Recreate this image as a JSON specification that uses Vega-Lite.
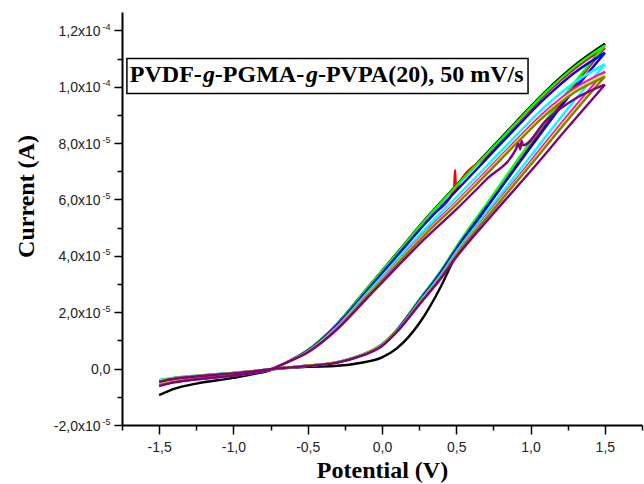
{
  "$schema": "https://vega.github.io/schema/vega-lite/v6.json",
  "width": 520,
  "height": 413,
  "autosize": {"type": "none"},
  "padding": {"left": 122, "top": 12, "right": 2, "bottom": 59},
  "background": "white",
  "config": {"view": {"stroke": null}, "axis": {"grid": false}},
  "datasets": {
    "cv": [
      {"s":"s1","b":"B","v":-1.5,"i":-0.94e-5},{"s":"s1","b":"B","v":-1.4,"i":-0.72e-5},{"s":"s1","b":"B","v":-1.25,"i":-0.53e-5},{"s":"s1","b":"B","v":-1.0,"i":-0.33e-5},{"s":"s1","b":"B","v":-0.85,"i":-0.18e-5},{"s":"s1","b":"B","v":-0.75,"i":-0.05e-5},{"s":"s1","b":"B","v":-0.65,"i":0.20e-5},{"s":"s1","b":"B","v":-0.5,"i":0.65e-5},{"s":"s1","b":"B","v":-0.3,"i":1.60e-5},{"s":"s1","b":"B","v":-0.1,"i":2.85e-5},{"s":"s1","b":"B","v":0.1,"i":4.10e-5},{"s":"s1","b":"B","v":0.3,"i":5.35e-5},{"s":"s1","b":"B","v":0.5,"i":6.50e-5},{"s":"s1","b":"B","v":0.7,"i":7.62e-5},{"s":"s1","b":"B","v":0.9,"i":8.74e-5},{"s":"s1","b":"B","v":1.1,"i":9.83e-5},{"s":"s1","b":"B","v":1.3,"i":10.77e-5},{"s":"s1","b":"B","v":1.5,"i":11.52e-5},
      {"s":"s1","b":"A","v":-1.5,"i":-0.45e-5},{"s":"s1","b":"A","v":-1.4,"i":-0.36e-5},{"s":"s1","b":"A","v":-1.25,"i":-0.27e-5},{"s":"s1","b":"A","v":-1.0,"i":-0.16e-5},{"s":"s1","b":"A","v":-0.85,"i":-0.09e-5},{"s":"s1","b":"A","v":-0.75,"i":-0.03e-5},{"s":"s1","b":"A","v":-0.5,"i":0.06e-5},{"s":"s1","b":"A","v":-0.3,"i":0.10e-5},{"s":"s1","b":"A","v":-0.15,"i":0.20e-5},{"s":"s1","b":"A","v":0.0,"i":0.40e-5},{"s":"s1","b":"A","v":0.1,"i":0.72e-5},{"s":"s1","b":"A","v":0.25,"i":1.60e-5},{"s":"s1","b":"A","v":0.4,"i":2.95e-5},{"s":"s1","b":"A","v":0.5,"i":4.05e-5},{"s":"s1","b":"A","v":0.6,"i":4.92e-5},{"s":"s1","b":"A","v":0.75,"i":6.05e-5},{"s":"s1","b":"A","v":1.0,"i":7.90e-5},{"s":"s1","b":"A","v":1.25,"i":9.70e-5},{"s":"s1","b":"A","v":1.5,"i":11.52e-5},

      {"s":"s2","b":"B","v":-1.5,"i":-0.58e-5},{"s":"s2","b":"B","v":-1.4,"i":-0.47e-5},{"s":"s2","b":"B","v":-1.25,"i":-0.37e-5},{"s":"s2","b":"B","v":-1.0,"i":-0.24e-5},{"s":"s2","b":"B","v":-0.85,"i":-0.13e-5},{"s":"s2","b":"B","v":-0.75,"i":-0.03e-5},{"s":"s2","b":"B","v":-0.65,"i":0.20e-5},{"s":"s2","b":"B","v":-0.5,"i":0.64e-5},{"s":"s2","b":"B","v":-0.3,"i":1.58e-5},{"s":"s2","b":"B","v":-0.1,"i":2.82e-5},{"s":"s2","b":"B","v":0.1,"i":4.05e-5},{"s":"s2","b":"B","v":0.3,"i":5.28e-5},{"s":"s2","b":"B","v":0.485,"i":6.33e-5},{"s":"s2","b":"B","v":0.492,"i":7.05e-5},{"s":"s2","b":"B","v":0.498,"i":6.30e-5},{"s":"s2","b":"B","v":0.51,"i":6.47e-5},{"s":"s2","b":"B","v":0.7,"i":7.53e-5},{"s":"s2","b":"B","v":0.9,"i":8.64e-5},{"s":"s2","b":"B","v":1.1,"i":9.73e-5},{"s":"s2","b":"B","v":1.3,"i":10.65e-5},{"s":"s2","b":"B","v":1.5,"i":11.38e-5},
      {"s":"s2","b":"A","v":-1.5,"i":-0.44e-5},{"s":"s2","b":"A","v":-1.4,"i":-0.35e-5},{"s":"s2","b":"A","v":-1.25,"i":-0.27e-5},{"s":"s2","b":"A","v":-1.0,"i":-0.16e-5},{"s":"s2","b":"A","v":-0.85,"i":-0.08e-5},{"s":"s2","b":"A","v":-0.75,"i":-0.02e-5},{"s":"s2","b":"A","v":-0.5,"i":0.10e-5},{"s":"s2","b":"A","v":-0.3,"i":0.23e-5},{"s":"s2","b":"A","v":-0.15,"i":0.46e-5},{"s":"s2","b":"A","v":0.0,"i":0.86e-5},{"s":"s2","b":"A","v":0.1,"i":1.37e-5},{"s":"s2","b":"A","v":0.25,"i":2.43e-5},{"s":"s2","b":"A","v":0.4,"i":3.48e-5},{"s":"s2","b":"A","v":0.5,"i":4.30e-5},{"s":"s2","b":"A","v":0.75,"i":6.13e-5},{"s":"s2","b":"A","v":1.0,"i":7.98e-5},{"s":"s2","b":"A","v":1.25,"i":9.76e-5},{"s":"s2","b":"A","v":1.5,"i":11.38e-5},

      {"s":"s3","b":"B","v":-1.5,"i":-0.55e-5},{"s":"s3","b":"B","v":-1.4,"i":-0.45e-5},{"s":"s3","b":"B","v":-1.25,"i":-0.36e-5},{"s":"s3","b":"B","v":-1.0,"i":-0.24e-5},{"s":"s3","b":"B","v":-0.85,"i":-0.13e-5},{"s":"s3","b":"B","v":-0.75,"i":-0.03e-5},{"s":"s3","b":"B","v":-0.65,"i":0.20e-5},{"s":"s3","b":"B","v":-0.5,"i":0.65e-5},{"s":"s3","b":"B","v":-0.3,"i":1.59e-5},{"s":"s3","b":"B","v":-0.1,"i":2.84e-5},{"s":"s3","b":"B","v":0.1,"i":4.08e-5},{"s":"s3","b":"B","v":0.3,"i":5.32e-5},{"s":"s3","b":"B","v":0.5,"i":6.47e-5},{"s":"s3","b":"B","v":0.7,"i":7.58e-5},{"s":"s3","b":"B","v":0.9,"i":8.70e-5},{"s":"s3","b":"B","v":1.1,"i":9.79e-5},{"s":"s3","b":"B","v":1.3,"i":10.72e-5},{"s":"s3","b":"B","v":1.5,"i":11.46e-5},
      {"s":"s3","b":"A","v":-1.5,"i":-0.40e-5},{"s":"s3","b":"A","v":-1.4,"i":-0.32e-5},{"s":"s3","b":"A","v":-1.25,"i":-0.25e-5},{"s":"s3","b":"A","v":-1.0,"i":-0.15e-5},{"s":"s3","b":"A","v":-0.85,"i":-0.08e-5},{"s":"s3","b":"A","v":-0.75,"i":-0.02e-5},{"s":"s3","b":"A","v":-0.5,"i":0.10e-5},{"s":"s3","b":"A","v":-0.3,"i":0.23e-5},{"s":"s3","b":"A","v":-0.15,"i":0.46e-5},{"s":"s3","b":"A","v":0.0,"i":0.87e-5},{"s":"s3","b":"A","v":0.1,"i":1.38e-5},{"s":"s3","b":"A","v":0.25,"i":2.44e-5},{"s":"s3","b":"A","v":0.4,"i":3.50e-5},{"s":"s3","b":"A","v":0.5,"i":4.32e-5},{"s":"s3","b":"A","v":0.75,"i":6.18e-5},{"s":"s3","b":"A","v":1.0,"i":8.05e-5},{"s":"s3","b":"A","v":1.25,"i":9.84e-5},{"s":"s3","b":"A","v":1.5,"i":11.46e-5},

      {"s":"s4","b":"B","v":-1.5,"i":-0.57e-5},{"s":"s4","b":"B","v":-1.4,"i":-0.46e-5},{"s":"s4","b":"B","v":-1.25,"i":-0.37e-5},{"s":"s4","b":"B","v":-1.0,"i":-0.24e-5},{"s":"s4","b":"B","v":-0.85,"i":-0.13e-5},{"s":"s4","b":"B","v":-0.75,"i":-0.03e-5},{"s":"s4","b":"B","v":-0.65,"i":0.20e-5},{"s":"s4","b":"B","v":-0.5,"i":0.63e-5},{"s":"s4","b":"B","v":-0.3,"i":1.56e-5},{"s":"s4","b":"B","v":-0.1,"i":2.77e-5},{"s":"s4","b":"B","v":0.1,"i":3.99e-5},{"s":"s4","b":"B","v":0.3,"i":5.20e-5},{"s":"s4","b":"B","v":0.5,"i":6.31e-5},{"s":"s4","b":"B","v":0.7,"i":7.42e-5},{"s":"s4","b":"B","v":0.9,"i":8.53e-5},{"s":"s4","b":"B","v":1.1,"i":9.60e-5},{"s":"s4","b":"B","v":1.3,"i":10.51e-5},{"s":"s4","b":"B","v":1.5,"i":11.20e-5},
      {"s":"s4","b":"A","v":-1.5,"i":-0.43e-5},{"s":"s4","b":"A","v":-1.4,"i":-0.34e-5},{"s":"s4","b":"A","v":-1.25,"i":-0.26e-5},{"s":"s4","b":"A","v":-1.0,"i":-0.15e-5},{"s":"s4","b":"A","v":-0.85,"i":-0.08e-5},{"s":"s4","b":"A","v":-0.75,"i":-0.02e-5},{"s":"s4","b":"A","v":-0.5,"i":0.10e-5},{"s":"s4","b":"A","v":-0.3,"i":0.23e-5},{"s":"s4","b":"A","v":-0.15,"i":0.45e-5},{"s":"s4","b":"A","v":0.0,"i":0.85e-5},{"s":"s4","b":"A","v":0.1,"i":1.36e-5},{"s":"s4","b":"A","v":0.25,"i":2.40e-5},{"s":"s4","b":"A","v":0.4,"i":3.45e-5},{"s":"s4","b":"A","v":0.5,"i":4.25e-5},{"s":"s4","b":"A","v":0.75,"i":6.05e-5},{"s":"s4","b":"A","v":1.0,"i":7.85e-5},{"s":"s4","b":"A","v":1.25,"i":9.60e-5},{"s":"s4","b":"A","v":1.5,"i":11.20e-5},

      {"s":"s5","b":"B","v":-1.5,"i":-0.52e-5},{"s":"s5","b":"B","v":-1.4,"i":-0.43e-5},{"s":"s5","b":"B","v":-1.25,"i":-0.35e-5},{"s":"s5","b":"B","v":-1.0,"i":-0.23e-5},{"s":"s5","b":"B","v":-0.85,"i":-0.12e-5},{"s":"s5","b":"B","v":-0.75,"i":-0.03e-5},{"s":"s5","b":"B","v":-0.65,"i":0.20e-5},{"s":"s5","b":"B","v":-0.5,"i":0.61e-5},{"s":"s5","b":"B","v":-0.3,"i":1.50e-5},{"s":"s5","b":"B","v":-0.1,"i":2.68e-5},{"s":"s5","b":"B","v":0.1,"i":3.85e-5},{"s":"s5","b":"B","v":0.3,"i":5.01e-5},{"s":"s5","b":"B","v":0.5,"i":6.08e-5},{"s":"s5","b":"B","v":0.7,"i":7.16e-5},{"s":"s5","b":"B","v":0.9,"i":8.26e-5},{"s":"s5","b":"B","v":1.1,"i":9.31e-5},{"s":"s5","b":"B","v":1.3,"i":10.17e-5},{"s":"s5","b":"B","v":1.5,"i":10.80e-5},
      {"s":"s5","b":"A","v":-1.5,"i":-0.41e-5},{"s":"s5","b":"A","v":-1.4,"i":-0.33e-5},{"s":"s5","b":"A","v":-1.25,"i":-0.25e-5},{"s":"s5","b":"A","v":-1.0,"i":-0.15e-5},{"s":"s5","b":"A","v":-0.85,"i":-0.08e-5},{"s":"s5","b":"A","v":-0.75,"i":-0.02e-5},{"s":"s5","b":"A","v":-0.5,"i":0.10e-5},{"s":"s5","b":"A","v":-0.3,"i":0.23e-5},{"s":"s5","b":"A","v":-0.15,"i":0.45e-5},{"s":"s5","b":"A","v":0.0,"i":0.84e-5},{"s":"s5","b":"A","v":0.1,"i":1.34e-5},{"s":"s5","b":"A","v":0.25,"i":2.35e-5},{"s":"s5","b":"A","v":0.4,"i":3.36e-5},{"s":"s5","b":"A","v":0.5,"i":4.14e-5},{"s":"s5","b":"A","v":0.75,"i":5.85e-5},{"s":"s5","b":"A","v":1.0,"i":7.54e-5},{"s":"s5","b":"A","v":1.25,"i":9.22e-5},{"s":"s5","b":"A","v":1.5,"i":10.80e-5},

      {"s":"s6","b":"B","v":-1.5,"i":-0.60e-5},{"s":"s6","b":"B","v":-1.4,"i":-0.48e-5},{"s":"s6","b":"B","v":-1.25,"i":-0.38e-5},{"s":"s6","b":"B","v":-1.0,"i":-0.25e-5},{"s":"s6","b":"B","v":-0.85,"i":-0.13e-5},{"s":"s6","b":"B","v":-0.75,"i":-0.03e-5},{"s":"s6","b":"B","v":-0.65,"i":0.20e-5},{"s":"s6","b":"B","v":-0.5,"i":0.60e-5},{"s":"s6","b":"B","v":-0.3,"i":1.46e-5},{"s":"s6","b":"B","v":-0.1,"i":2.61e-5},{"s":"s6","b":"B","v":0.1,"i":3.76e-5},{"s":"s6","b":"B","v":0.3,"i":4.89e-5},{"s":"s6","b":"B","v":0.5,"i":5.92e-5},{"s":"s6","b":"B","v":0.7,"i":6.99e-5},{"s":"s6","b":"B","v":0.9,"i":8.08e-5},{"s":"s6","b":"B","v":1.1,"i":9.12e-5},{"s":"s6","b":"B","v":1.3,"i":9.95e-5},{"s":"s6","b":"B","v":1.5,"i":10.53e-5},
      {"s":"s6","b":"A","v":-1.5,"i":-0.45e-5},{"s":"s6","b":"A","v":-1.4,"i":-0.35e-5},{"s":"s6","b":"A","v":-1.25,"i":-0.27e-5},{"s":"s6","b":"A","v":-1.0,"i":-0.16e-5},{"s":"s6","b":"A","v":-0.85,"i":-0.08e-5},{"s":"s6","b":"A","v":-0.75,"i":-0.02e-5},{"s":"s6","b":"A","v":-0.5,"i":0.10e-5},{"s":"s6","b":"A","v":-0.3,"i":0.22e-5},{"s":"s6","b":"A","v":-0.15,"i":0.44e-5},{"s":"s6","b":"A","v":0.0,"i":0.83e-5},{"s":"s6","b":"A","v":0.1,"i":1.33e-5},{"s":"s6","b":"A","v":0.25,"i":2.32e-5},{"s":"s6","b":"A","v":0.4,"i":3.30e-5},{"s":"s6","b":"A","v":0.5,"i":4.07e-5},{"s":"s6","b":"A","v":0.75,"i":5.73e-5},{"s":"s6","b":"A","v":1.0,"i":7.35e-5},{"s":"s6","b":"A","v":1.25,"i":8.98e-5},{"s":"s6","b":"A","v":1.5,"i":10.53e-5},

      {"s":"s7","b":"B","v":-1.5,"i":-0.56e-5},{"s":"s7","b":"B","v":-1.4,"i":-0.45e-5},{"s":"s7","b":"B","v":-1.25,"i":-0.36e-5},{"s":"s7","b":"B","v":-1.0,"i":-0.24e-5},{"s":"s7","b":"B","v":-0.85,"i":-0.13e-5},{"s":"s7","b":"B","v":-0.75,"i":-0.03e-5},{"s":"s7","b":"B","v":-0.65,"i":0.20e-5},{"s":"s7","b":"B","v":-0.5,"i":0.59e-5},{"s":"s7","b":"B","v":-0.3,"i":1.45e-5},{"s":"s7","b":"B","v":-0.1,"i":2.59e-5},{"s":"s7","b":"B","v":0.1,"i":3.73e-5},{"s":"s7","b":"B","v":0.3,"i":4.84e-5},{"s":"s7","b":"B","v":0.5,"i":5.86e-5},{"s":"s7","b":"B","v":0.7,"i":6.93e-5},{"s":"s7","b":"B","v":0.9,"i":8.01e-5},{"s":"s7","b":"B","v":1.1,"i":9.04e-5},{"s":"s7","b":"B","v":1.3,"i":9.87e-5},{"s":"s7","b":"B","v":1.5,"i":10.43e-5},
      {"s":"s7","b":"A","v":-1.5,"i":-0.44e-5},{"s":"s7","b":"A","v":-1.4,"i":-0.35e-5},{"s":"s7","b":"A","v":-1.25,"i":-0.26e-5},{"s":"s7","b":"A","v":-1.0,"i":-0.16e-5},{"s":"s7","b":"A","v":-0.85,"i":-0.08e-5},{"s":"s7","b":"A","v":-0.75,"i":-0.02e-5},{"s":"s7","b":"A","v":-0.5,"i":0.10e-5},{"s":"s7","b":"A","v":-0.3,"i":0.22e-5},{"s":"s7","b":"A","v":-0.15,"i":0.44e-5},{"s":"s7","b":"A","v":0.0,"i":0.83e-5},{"s":"s7","b":"A","v":0.1,"i":1.32e-5},{"s":"s7","b":"A","v":0.25,"i":2.31e-5},{"s":"s7","b":"A","v":0.4,"i":3.28e-5},{"s":"s7","b":"A","v":0.5,"i":4.05e-5},{"s":"s7","b":"A","v":0.75,"i":5.68e-5},{"s":"s7","b":"A","v":1.0,"i":7.27e-5},{"s":"s7","b":"A","v":1.25,"i":8.89e-5},{"s":"s7","b":"A","v":1.5,"i":10.43e-5},

      {"s":"s8","b":"B","v":-1.5,"i":-0.58e-5},{"s":"s8","b":"B","v":-1.4,"i":-0.47e-5},{"s":"s8","b":"B","v":-1.25,"i":-0.37e-5},{"s":"s8","b":"B","v":-1.0,"i":-0.24e-5},{"s":"s8","b":"B","v":-0.85,"i":-0.13e-5},{"s":"s8","b":"B","v":-0.75,"i":-0.03e-5},{"s":"s8","b":"B","v":-0.65,"i":0.20e-5},{"s":"s8","b":"B","v":-0.5,"i":0.59e-5},{"s":"s8","b":"B","v":-0.3,"i":1.44e-5},{"s":"s8","b":"B","v":-0.1,"i":2.57e-5},{"s":"s8","b":"B","v":0.1,"i":3.70e-5},{"s":"s8","b":"B","v":0.3,"i":4.81e-5},{"s":"s8","b":"B","v":0.5,"i":5.82e-5},{"s":"s8","b":"B","v":0.7,"i":6.88e-5},{"s":"s8","b":"B","v":0.9,"i":7.96e-5},{"s":"s8","b":"B","v":1.1,"i":8.99e-5},{"s":"s8","b":"B","v":1.3,"i":9.81e-5},{"s":"s8","b":"B","v":1.5,"i":10.36e-5},
      {"s":"s8","b":"A","v":-1.5,"i":-0.45e-5},{"s":"s8","b":"A","v":-1.4,"i":-0.35e-5},{"s":"s8","b":"A","v":-1.25,"i":-0.27e-5},{"s":"s8","b":"A","v":-1.0,"i":-0.16e-5},{"s":"s8","b":"A","v":-0.85,"i":-0.08e-5},{"s":"s8","b":"A","v":-0.75,"i":-0.02e-5},{"s":"s8","b":"A","v":-0.5,"i":0.10e-5},{"s":"s8","b":"A","v":-0.3,"i":0.22e-5},{"s":"s8","b":"A","v":-0.15,"i":0.44e-5},{"s":"s8","b":"A","v":0.0,"i":0.82e-5},{"s":"s8","b":"A","v":0.1,"i":1.32e-5},{"s":"s8","b":"A","v":0.25,"i":2.30e-5},{"s":"s8","b":"A","v":0.4,"i":3.27e-5},{"s":"s8","b":"A","v":0.5,"i":4.03e-5},{"s":"s8","b":"A","v":0.75,"i":5.64e-5},{"s":"s8","b":"A","v":1.0,"i":7.22e-5},{"s":"s8","b":"A","v":1.25,"i":8.82e-5},{"s":"s8","b":"A","v":1.5,"i":10.36e-5},

      {"s":"s9","b":"B","v":-1.5,"i":-0.62e-5},{"s":"s9","b":"B","v":-1.4,"i":-0.49e-5},{"s":"s9","b":"B","v":-1.25,"i":-0.38e-5},{"s":"s9","b":"B","v":-1.0,"i":-0.25e-5},{"s":"s9","b":"B","v":-0.85,"i":-0.14e-5},{"s":"s9","b":"B","v":-0.75,"i":-0.03e-5},{"s":"s9","b":"B","v":-0.65,"i":0.20e-5},{"s":"s9","b":"B","v":-0.5,"i":0.57e-5},{"s":"s9","b":"B","v":-0.3,"i":1.40e-5},{"s":"s9","b":"B","v":-0.1,"i":2.50e-5},{"s":"s9","b":"B","v":0.1,"i":3.60e-5},{"s":"s9","b":"B","v":0.3,"i":4.67e-5},{"s":"s9","b":"B","v":0.5,"i":5.65e-5},{"s":"s9","b":"B","v":0.7,"i":6.70e-5},{"s":"s9","b":"B","v":0.9,"i":7.77e-5},{"s":"s9","b":"B","v":0.92,"i":7.98e-5},{"s":"s9","b":"B","v":0.93,"i":7.78e-5},{"s":"s9","b":"B","v":0.94,"i":8.08e-5},{"s":"s9","b":"B","v":0.95,"i":7.92e-5},{"s":"s9","b":"B","v":1.1,"i":8.78e-5},{"s":"s9","b":"B","v":1.3,"i":9.57e-5},{"s":"s9","b":"B","v":1.5,"i":10.07e-5},
      {"s":"s9","b":"A","v":-1.5,"i":-0.47e-5},{"s":"s9","b":"A","v":-1.4,"i":-0.37e-5},{"s":"s9","b":"A","v":-1.25,"i":-0.28e-5},{"s":"s9","b":"A","v":-1.0,"i":-0.17e-5},{"s":"s9","b":"A","v":-0.85,"i":-0.09e-5},{"s":"s9","b":"A","v":-0.75,"i":-0.02e-5},{"s":"s9","b":"A","v":-0.5,"i":0.09e-5},{"s":"s9","b":"A","v":-0.3,"i":0.21e-5},{"s":"s9","b":"A","v":-0.15,"i":0.43e-5},{"s":"s9","b":"A","v":0.0,"i":0.80e-5},{"s":"s9","b":"A","v":0.1,"i":1.30e-5},{"s":"s9","b":"A","v":0.25,"i":2.26e-5},{"s":"s9","b":"A","v":0.4,"i":3.22e-5},{"s":"s9","b":"A","v":0.5,"i":3.95e-5},{"s":"s9","b":"A","v":0.75,"i":5.50e-5},{"s":"s9","b":"A","v":1.0,"i":7.00e-5},{"s":"s9","b":"A","v":1.25,"i":8.55e-5},{"s":"s9","b":"A","v":1.5,"i":10.07e-5}
    ]
  },
  "resolve": {"axis": {"x": "independent", "y": "independent"}},
  "layer": [
    {
      "data": {"name": "cv"},
      "mark": {"type": "line", "strokeWidth": 2.4, "interpolate": "monotone"},
      "encoding": {
        "x": {
          "field": "v", "type": "quantitative",
          "scale": {"domain": [-1.75, 1.75], "nice": false, "zero": false},
          "axis": {
            "orient": "bottom", "values": [-1.5, -1, -0.5, 0, 0.5, 1, 1.5],
            "labelExpr": "(datum.value < 0 ? '-' : '') + replace(format(abs(datum.value), '.1f'), '.', ',')",
            "domainColor": "black", "domainWidth": 2, "tickColor": "black", "tickWidth": 1.5, "tickSize": 9,
            "labelFont": "Liberation Sans", "labelFontSize": 14, "labelColor": "#222", "labelPadding": 6,
            "title": "Potential (V)", "titleFont": "Liberation Serif", "titleFontSize": 24, "titleFontWeight": "bold",
            "titleColor": "black", "titleBaseline": "alphabetic", "titleY": 52
          }
        },
        "y": {
          "field": "i", "type": "quantitative",
          "scale": {"domain": [-2e-5, 1.265e-4], "nice": false, "zero": false},
          "axis": {
            "orient": "left", "values": [-2e-5, 0, 2e-5, 4e-5, 6e-5, 8e-5, 1e-4, 1.2e-4],
            "labelExpr": "datum.value == 0 ? '' : (datum.value < 0 ? '-' : '') + replace(format(abs(datum.value) >= 9.9e-5 ? abs(datum.value) * 1e4 : abs(datum.value) * 1e5, '.1f'), '.', ',') + 'x10'",
            "domainColor": "black", "domainWidth": 2, "tickColor": "black", "tickWidth": 1.5, "tickSize": 8,
            "labelFont": "Liberation Sans", "labelFontSize": 14, "labelColor": "#222", "labelPadding": 14, "labelOffset": 1,
            "title": "Current (A)", "titleFont": "Liberation Serif", "titleFontSize": 24, "titleFontWeight": "bold",
            "titleColor": "black", "titleAngle": -90, "titleBaseline": "alphabetic", "titleX": -89, "titleY": 184
          }
        },
        "color": {
          "field": "s", "type": "nominal", "legend": null,
          "scale": {
            "domain": ["s1", "s2", "s3", "s4", "s5", "s6", "s7", "s8", "s9"],
            "range": ["#000000", "#FF0000", "#00FF00", "#0000FF", "#00FFFF", "#FF00FF", "#FFFF00", "#808000", "#800080"]
          }
        },
        "detail": {"field": "b", "type": "nominal"}
      }
    },
    {
      "data": {"values": [{}]},
      "mark": {"type": "rect", "fill": "white", "stroke": "black", "strokeWidth": 1.5},
      "encoding": {
        "x": {
          "datum": -1.717, "type": "quantitative",
          "scale": {"domain": [-1.75, 1.75], "nice": false, "zero": false},
          "axis": {
            "orient": "bottom", "values": [-1.75, -1.25, -0.75, -0.25, 0.25, 0.75, 1.25, 1.75],
            "labels": false, "domain": false, "title": null, "tickColor": "black", "tickWidth": 1.5, "tickSize": 5
          }
        },
        "x2": {"datum": 0.983},
        "y": {
          "datum": 1.10e-4, "type": "quantitative",
          "scale": {"domain": [-2e-5, 1.265e-4], "nice": false, "zero": false},
          "axis": {
            "orient": "left", "values": [-1e-5, 1e-5, 3e-5, 5e-5, 7e-5, 9e-5, 1.1e-4],
            "labels": false, "domain": false, "title": null, "tickColor": "black", "tickWidth": 1.5, "tickSize": 5
          }
        },
        "y2": {"datum": 0.976e-4}
      }
    },
    {
      "data": {"values": [{}]},
      "mark": {"type": "text", "text": "PVDF-", "font": "Liberation Serif", "fontSize": 24, "fontWeight": "bold", "align": "left", "baseline": "alphabetic", "color": "black"},
      "encoding": {
        "x": {"datum": -1.697, "type": "quantitative", "axis": null},
        "y": {
          "datum": 1.016e-4, "type": "quantitative",
          "scale": {"domain": [-2e-5, 1.265e-4], "nice": false, "zero": false},
          "axis": {
            "orient": "left", "values": [-2e-5, 2e-5, 4e-5, 6e-5, 8e-5, 1e-4, 1.2e-4],
            "labelExpr": "abs(datum.value) >= 9.9e-5 ? '-4' : '-5'",
            "ticks": false, "domain": false, "title": null,
            "labelFont": "Liberation Sans", "labelFontSize": 9, "labelColor": "#222", "labelPadding": 12, "labelOffset": -4
          }
        }
      }
    },
    {
      "data": {"values": [{}]},
      "mark": {"type": "text", "text": "g", "font": "Liberation Serif", "fontSize": 24, "fontWeight": "bold", "fontStyle": "italic", "align": "left", "baseline": "alphabetic", "color": "black"},
      "encoding": {
        "x": {"datum": -1.205, "type": "quantitative", "axis": null},
        "y": {
          "datum": 1.016e-4, "type": "quantitative",
          "scale": {"domain": [-2e-5, 1.265e-4], "nice": false, "zero": false},
          "axis": {
            "orient": "left", "values": [0],
            "labelExpr": "'0,0'",
            "ticks": false, "domain": false, "title": null,
            "labelFont": "Liberation Sans", "labelFontSize": 14, "labelColor": "#222", "labelPadding": 12, "labelOffset": 1
          }
        }
      }
    },
    {
      "data": {"values": [{}]},
      "mark": {"type": "text", "text": "-PGMA-", "font": "Liberation Serif", "fontSize": 24, "fontWeight": "bold", "align": "left", "baseline": "alphabetic", "color": "black"},
      "encoding": {
        "x": {"datum": -1.125, "type": "quantitative", "axis": null},
        "y": {"datum": 1.016e-4, "type": "quantitative", "axis": null}
      }
    },
    {
      "data": {"values": [{}]},
      "mark": {"type": "text", "text": "g", "font": "Liberation Serif", "fontSize": 24, "fontWeight": "bold", "fontStyle": "italic", "align": "left", "baseline": "alphabetic", "color": "black"},
      "encoding": {
        "x": {"datum": -0.512, "type": "quantitative", "axis": null},
        "y": {"datum": 1.016e-4, "type": "quantitative", "axis": null}
      }
    },
    {
      "data": {"values": [{}]},
      "mark": {"type": "text", "text": "-PVPA(20), 50 mV/s", "font": "Liberation Serif", "fontSize": 24, "fontWeight": "bold", "align": "left", "baseline": "alphabetic", "color": "black"},
      "encoding": {
        "x": {"datum": -0.431, "type": "quantitative", "axis": null},
        "y": {"datum": 1.016e-4, "type": "quantitative", "axis": null}
      }
    }
  ]
}
